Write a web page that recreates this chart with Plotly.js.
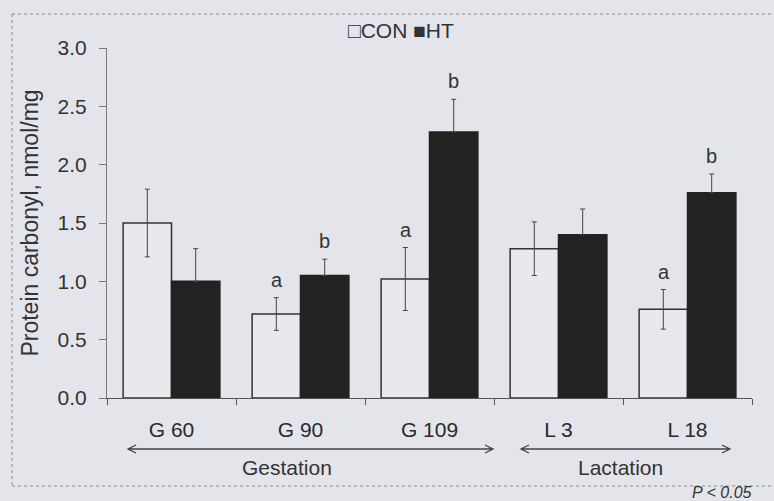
<!DOCTYPE html>
<html>
<head>
<meta charset="utf-8">
<script src="https://cdn.plot.ly/plotly-3.0.1.min.js"></script>
<style>html,body{margin:0;padding:0;background:#e3e5ea;overflow:hidden;}</style>
</head>
<body>
<div id="chart" style="width:774px;height:501px;"></div>
<script>
// ---- data ----
const categories = ['G 60', 'G 90', 'G 109', 'L 3', 'L 18'];
const conValues = [1.50, 0.72, 1.02, 1.28, 0.76];
const conErrors = [0.29, 0.14, 0.27, 0.23, 0.17];
const htValues = [1.00, 1.05, 2.28, 1.40, 1.76];
const htErrors = [0.28, 0.14, 0.28, 0.22, 0.16];
const conLetters = ['', 'a', 'a', '', 'a'];
const htLetters = ['', 'b', 'b', '', 'b'];
const yTickValues = [0, 0.5, 1.0, 1.5, 2.0, 2.5, 3.0];
const yTickLabels = ['0.0', '0.5', '1.0', '1.5', '2.0', '2.5', '3.0'];

// ---- layout helpers (pixel -> paper) ----
const W = 774, H = 501;
const M = {l: 107, r: 22, t: 48, b: 103};
const PW = W - M.l - M.r, PH = H - M.t - M.b;
const px = x => (x - M.l) / PW;
const py = y => (H - M.b - y) / PH;
const FONT = '"Liberation Sans", Arial, sans-serif';
const TXT = '#333333';

function arrowPath(x1, x2, y) {
  const h = 8, s = 4;
  return `M${px(x1)},${py(y)} L${px(x2)},${py(y)} ` +
         `M${px(x1 + h)},${py(y - s)} L${px(x1)},${py(y)} L${px(x1 + h)},${py(y + s)} ` +
         `M${px(x2 - h)},${py(y - s)} L${px(x2)},${py(y)} L${px(x2 - h)},${py(y + s)}`;
}

const traces = [
  {
    type: 'bar', name: 'CON', x: categories, y: conValues,
    marker: {color: '#e7e9ed', line: {color: '#333333', width: 1.5}},
    error_y: {type: 'data', array: conErrors, visible: true, color: '#444444', thickness: 1, width: 2.5}
  },
  {
    type: 'bar', name: 'HT', x: categories, y: htValues,
    marker: {color: '#222222', line: {color: '#222222', width: 1.5}},
    error_y: {type: 'data', symmetric: false, array: htErrors, arrayminus: htErrors.map(() => 0),
              visible: true, color: '#444444', thickness: 1, width: 2.5}
  }
];

const annotations = [];
categories.forEach((c, i) => {
  if (conLetters[i]) annotations.push({
    x: c, y: conValues[i] + conErrors[i], xref: 'x', yref: 'y', xshift: -24, yshift: 5,
    yanchor: 'bottom', text: conLetters[i], showarrow: false, font: {family: FONT, size: 20, color: TXT}
  });
  if (htLetters[i]) annotations.push({
    x: c, y: htValues[i] + htErrors[i], xref: 'x', yref: 'y', xshift: 24, yshift: 5,
    yanchor: 'bottom', text: htLetters[i], showarrow: false, font: {family: FONT, size: 20, color: TXT}
  });
});
const note = (x, y, text, size) => ({
  x: px(x), y: py(y), xref: 'paper', yref: 'paper', xanchor: 'center', yanchor: 'middle',
  text: text, showarrow: false, font: {family: FONT, size: size, color: TXT}
});
annotations.push(
  note(401, 30, '□CON ■HT', 21),
  note(287, 467, 'Gestation', 21),
  note(620, 467, 'Lactation', 21),
  note(722, 492, '<i>P &lt; 0.05</i>', 16)
);

const layout = {
  width: W, height: H,
  margin: M,
  paper_bgcolor: '#e3e5ea', plot_bgcolor: '#e3e5ea',
  showlegend: false,
  barmode: 'group', bargap: 0.25, bargroupgap: 0,
  font: {family: FONT, color: TXT, size: 20},
  xaxis: {
    type: 'category', tickson: 'boundaries', ticks: 'outside', ticklen: 6, tickcolor: '#555',
    showline: true, linecolor: '#555', linewidth: 1, showgrid: false, zeroline: false,
    tickfont: {family: FONT, size: 21, color: '#2a2a2a'}, ticklabelstandoff: 13
  },
  yaxis: {
    range: [0, 3], tickvals: yTickValues, ticktext: yTickLabels,
    ticks: 'outside', ticklen: 7, tickcolor: '#777',
    showline: true, linecolor: '#777', linewidth: 1, showgrid: false, zeroline: false,
    tickfont: {family: FONT, size: 21, color: TXT}, ticklabelstandoff: 8,
    title: {text: 'Protein carbonyl, nmol/mg', font: {family: FONT, size: 23, color: TXT}, standoff: 12}
  },
  shapes: [
    {type: 'line', xref: 'paper', yref: 'paper', x0: px(12), x1: px(W), y0: py(14), y1: py(14),
     line: {color: '#8a8c90', width: 1, dash: 'dot'}},
    {type: 'line', xref: 'paper', yref: 'paper', x0: px(12), x1: px(12), y0: py(14), y1: py(486),
     line: {color: '#8a8c90', width: 1, dash: 'dot'}},
    {type: 'line', xref: 'paper', yref: 'paper', x0: px(12), x1: px(W), y0: py(486), y1: py(486),
     line: {color: '#8a8c90', width: 1, dash: 'dot'}},
    {type: 'path', xref: 'paper', yref: 'paper', path: arrowPath(128, 493, 449),
     line: {color: '#444', width: 1.3}},
    {type: 'path', xref: 'paper', yref: 'paper', path: arrowPath(521, 730, 449),
     line: {color: '#444', width: 1.3}}
  ],
  annotations: annotations
};

Plotly.newPlot('chart', traces, layout, {displayModeBar: false, staticPlot: true});
</script>
</body>
</html>
